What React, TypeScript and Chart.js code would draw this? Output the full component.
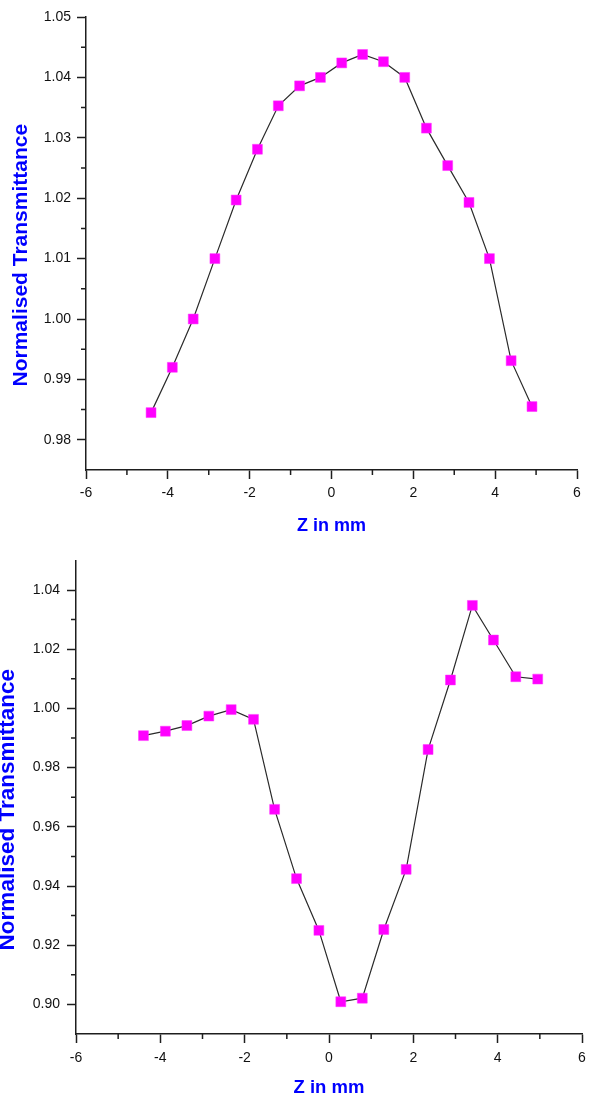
import React, { useEffect, useRef } from 'react';
import { Chart, registerables } from 'chart.js';

Chart.register(...registerables);

// ---- data ----
const topZ = [-4.41, -3.89, -3.38, -2.85, -2.33, -1.81, -1.3, -0.78, -0.27, 0.25, 0.76, 1.27, 1.79, 2.32, 2.84, 3.36, 3.86, 4.39, 4.9];
const topT = [0.9845, 0.992, 1.0, 1.01, 1.0197, 1.0281, 1.0353, 1.0386, 1.04, 1.0424, 1.0438, 1.0426, 1.04, 1.0316, 1.0254, 1.0193, 1.01, 0.9931, 0.9855];

const bottomZ = [-4.4, -3.88, -3.37, -2.85, -2.32, -1.79, -1.29, -0.77, -0.24, 0.28, 0.79, 1.3, 1.83, 2.35, 2.88, 3.4, 3.9, 4.43, 4.95];
const bottomT = [0.9908, 0.9923, 0.9942, 0.9974, 0.9996, 0.9963, 0.9659, 0.9425, 0.925, 0.9009, 0.9021, 0.9253, 0.9456, 0.9861, 1.0096, 1.0348, 1.0231, 1.0107, 1.0099];

const xTickValues = [-6, -4, -2, 0, 2, 4, 6];
const xMinorValues = [-5, -3, -1, 1, 3, 5];
const topYTicks = [0.98, 0.99, 1.0, 1.01, 1.02, 1.03, 1.04, 1.05];
const topYMinor = [0.985, 0.995, 1.005, 1.015, 1.025, 1.035, 1.045];
const bottomYTicks = [0.9, 0.92, 0.94, 0.96, 0.98, 1.0, 1.02, 1.04];
const bottomYMinor = [0.91, 0.93, 0.95, 0.97, 0.99, 1.01, 1.03];

const xTitle = 'Z in mm';
const yTitle = 'Normalised Transmittance';

const FONT = "Arial, 'Liberation Sans', sans-serif";
const AXIS = '#1e1e1e';

const minorTickPlugin = {
  id: 'minorTicks',
  afterDraw(chart: any, _args: any, opts: any) {
    const { ctx, chartArea, scales } = chart;
    const xs = scales.x;
    const ys = scales.y;
    ctx.save();
    ctx.strokeStyle = AXIS;
    ctx.lineWidth = 1.5;
    ctx.beginPath();
    for (const v of opts.xValues || []) {
      const px = xs.getPixelForValue(v);
      ctx.moveTo(px, chartArea.bottom);
      ctx.lineTo(px, chartArea.bottom + opts.length);
    }
    for (const v of opts.yValues || []) {
      const py = ys.getPixelForValue(v);
      ctx.moveTo(chartArea.left, py);
      ctx.lineTo(chartArea.left - opts.length, py);
    }
    ctx.stroke();
    ctx.restore();
  },
};

type Params = {
  xs: number[];
  ys: number[];
  yMin: number;
  yMax: number;
  yTicks: number[];
  yMinor: number[];
  yAxisWidth: number;
  xAxisHeight: number;
  padding: { top: number; right: number; bottom: number; left: number };
  yTitleSize: number;
  yTitleLH: number;
  yTitlePad: number;
  yTitleText: string;
  xTitleSize: number;
  xTitlePad: number;
  yTickPad: number;
  xTickPad: number;
};

function makeConfig(p: Params): any {
  return {
    type: 'scatter',
    data: {
      datasets: [
        {
          data: p.xs.map((x, i) => ({ x, y: p.ys[i] })),
          showLine: true,
          borderColor: '#2a2a2a',
          borderWidth: 1.2,
          tension: 0,
          pointStyle: 'rect',
          pointRadius: 7,
          pointHoverRadius: 7,
          pointBackgroundColor: '#ff00ff',
          pointBorderColor: '#ff33ff',
          pointBorderWidth: 0.5,
        },
      ],
    },
    options: {
      responsive: false,
      animation: false,
      events: [],
      layout: { padding: p.padding },
      plugins: {
        legend: { display: false },
        tooltip: { enabled: false },
        minorTicks: { xValues: xMinorValues, yValues: p.yMinor, length: 5 },
      },
      scales: {
        x: {
          type: 'linear',
          min: -6,
          max: 6,
          afterBuildTicks: (scale: any) => {
            scale.ticks = xTickValues.map((v) => ({ value: v }));
          },
          afterFit: (scale: any) => {
            scale.height = p.xAxisHeight;
          },
          border: { display: true, color: AXIS, width: 1.5 },
          grid: {
            drawOnChartArea: false,
            drawTicks: true,
            tickLength: 9,
            color: AXIS,
            tickColor: AXIS,
            tickWidth: 1.5,
          },
          ticks: {
            color: '#111',
            font: { family: FONT, size: 14 },
            padding: p.xTickPad,
            maxRotation: 0,
            callback: (v: any) => String(v),
          },
          title: {
            display: true,
            text: xTitle,
            color: '#0000ff',
            font: { family: FONT, size: p.xTitleSize, weight: 'bold', lineHeight: 1 },
            padding: { top: 0, bottom: p.xTitlePad },
          },
        },
        y: {
          type: 'linear',
          min: p.yMin,
          max: p.yMax,
          afterBuildTicks: (scale: any) => {
            scale.ticks = p.yTicks.map((v) => ({ value: v }));
          },
          afterFit: (scale: any) => {
            scale.width = p.yAxisWidth;
          },
          border: { display: true, color: AXIS, width: 1.5 },
          grid: {
            drawOnChartArea: false,
            drawTicks: true,
            tickLength: 9,
            color: AXIS,
            tickColor: AXIS,
            tickWidth: 1.5,
          },
          ticks: {
            color: '#111',
            font: { family: FONT, size: 14 },
            padding: p.yTickPad,
            callback: (v: any) => Number(v).toFixed(2),
          },
          title: {
            display: true,
            text: p.yTitleText,
            color: '#0000ff',
            font: { family: FONT, size: p.yTitleSize, weight: 'bold', lineHeight: p.yTitleLH },
            padding: { top: p.yTitlePad, bottom: 0 },
          },
        },
      },
    },
    plugins: [minorTickPlugin],
  };
}

function ZScanChart({ params, height }: { params: Params; height: number }) {
  const ref = useRef<HTMLCanvasElement>(null);
  useEffect(() => {
    const chart = new Chart(ref.current as HTMLCanvasElement, makeConfig(params));
    return () => chart.destroy();
  }, []);
  return (
    <div style={{ width: 604, height }}>
      <canvas ref={ref} width={604} height={height} style={{ display: 'block' }} />
    </div>
  );
}

const topParams: Params = {
  xs: topZ,
  ys: topT,
  yMin: 0.975,
  yMax: 1.05,
  yTicks: topYTicks,
  yMinor: topYMinor,
  yAxisWidth: 86,
  xAxisHeight: 75,
  padding: { top: 17, right: 27, bottom: 0, left: 0 },
  yTitleSize: 21,
  yTitleLH: 1,
  yTitlePad: 10.5,
  yTitleText: yTitle + '    ',
  xTitleSize: 18,
  xTitlePad: 10,
  yTickPad: 6,
  xTickPad: 6,
};

const bottomParams: Params = {
  xs: bottomZ,
  ys: bottomT,
  yMin: 0.89,
  yMax: 1.05,
  yTicks: bottomYTicks,
  yMinor: bottomYMinor,
  yAxisWidth: 76,
  xAxisHeight: 68,
  padding: { top: 13, right: 22, bottom: 0, left: 0 },
  yTitleSize: 22.5,
  yTitleLH: 0.6,
  yTitlePad: 0.75,
  yTitleText: yTitle + '    ',
  xTitleSize: 18.5,
  xTitlePad: 4.75,
  yTickPad: 7,
  xTickPad: 7,
};

export default function App() {
  return (
    <div style={{ position: 'absolute', left: 0, top: 0, width: 604, height: 1102, background: '#fff' }}>
      <ZScanChart params={topParams} height={545} />
      <ZScanChart params={bottomParams} height={557} />
    </div>
  );
}
